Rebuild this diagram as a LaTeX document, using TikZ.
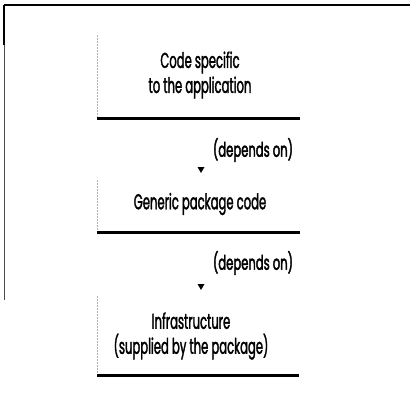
\documentclass[tikz,border=0pt]{standalone}
\usepackage{fontspec}
\setmainfont{Poppins}[FakeStretch=0.54, FakeBold=1.5]
\newfontfamily\depfont{Poppins}[FakeStretch=0.58, FakeBold=2]
\usetikzlibrary{arrows.meta}
\begin{document}
\begin{tikzpicture}[x=1pt,y=-1pt,
  boxtext/.style={font=\fontsize{21.5}{25}\selectfont, align=center, inner sep=0pt},
  deptext/.style={font=\depfont\fontsize{20}{20}\selectfont, inner sep=0pt},
  baseline/.style={line width=3pt},
  sideline/.style={gray!60, line width=0.6pt, dash pattern=on 2pt off 1pt},
  tip/.style={fill=black}]
\useasboundingbox (0,0) rectangle (414,412);
% frame
\draw[line width=1.6pt] (4,5) -- (410,5);
\draw[line width=1.6pt] (4,5) -- (4,45);
\draw[line width=0.8pt, gray!60!black] (4,45) -- (4,300);
% box 1
\node[boxtext] (t1) at (200,75) {Code specific\\to the application};
\coordinate (b1l) at (97,118);
\coordinate (b1r) at (300,118);
\draw[sideline] (97,35) -- (b1l);
\draw[baseline] (b1l) -- (b1r);
% depends on 1
\node[deptext] (d1) at (253,150) {(depends on)};
\coordinate (a1) at (201,173);
\fill[tip] (a1) -- ++(-3.5,-6) -- ++(7,0) -- cycle;
% box 2
\node[boxtext] (t2) at (200,204) {Generic package code};
\coordinate (b2l) at (97,232);
\coordinate (b2r) at (300,232);
\draw[sideline] (97,180) -- (b2l);
\draw[baseline] (b2l) -- (b2r);
% depends on 2
\node[deptext] (d2) at (253,263) {(depends on)};
\coordinate (a2) at (201,290);
\fill[tip] (a2) -- ++(-3.5,-6) -- ++(7,0) -- cycle;
% box 3
\node[boxtext] (t3) at (191,336) {Infrastructure\\(supplied by the package)};
\coordinate (b3l) at (97,375);
\coordinate (b3r) at (299,375);
\draw[sideline] (97,296) -- (b3l);
\draw[baseline] (b3l) -- (b3r);
\end{tikzpicture}
\end{document}
